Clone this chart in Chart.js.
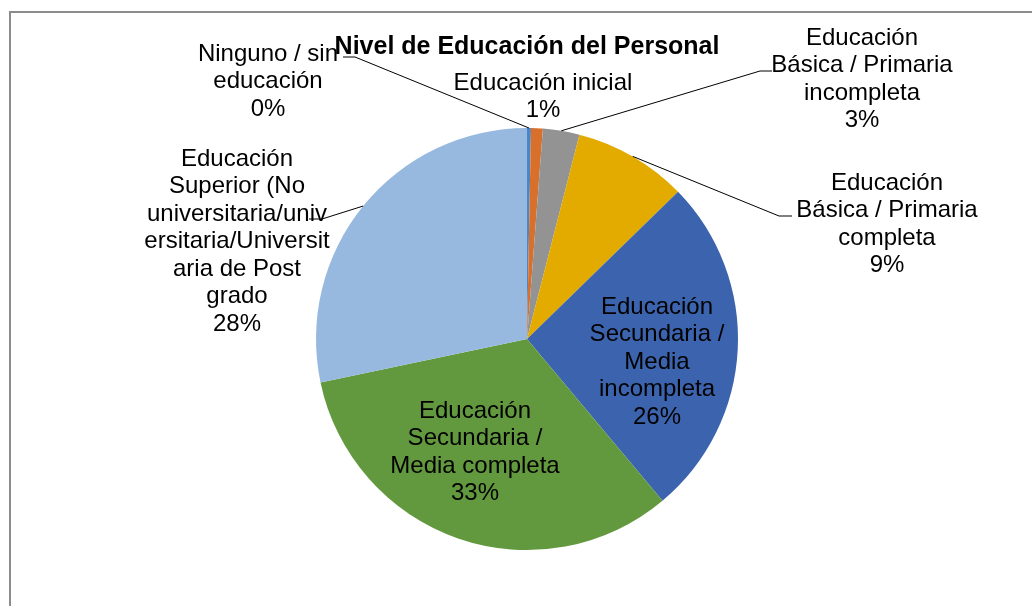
<!DOCTYPE html>
<html>
<head>
<meta charset="utf-8">
<script src="https://cdn.jsdelivr.net/npm/chart.js@4.4.1/dist/chart.umd.min.js"></script>
<style>
  html, body { margin: 0; padding: 0; background: #fff; }
  #wrap { width: 1032px; height: 606px; position: relative; }
</style>
</head>
<body>
<div id="wrap"><canvas id="grafico" width="1032" height="606"></canvas></div>
<script>
// datos
const titulo = 'Nivel de Educación del Personal'
const categorias = [
    'Ninguno / sin educación',
    'Educación inicial',
    'Educación Básica / Primaria incompleta',
    'Educación Básica / Primaria completa',
    'Educación Secundaria / Media incompleta',
    'Educación Secundaria / Media completa',
    'Educación Superior (No universitaria/universitaria/Universitaria de Post grado'
]
// como Excel corta las etiquetas en lineas
const lineasEtiqueta = [
    ['Ninguno / sin', 'educación'],
    ['Educación inicial'],
    ['Educación', 'Básica / Primaria', 'incompleta'],
    ['Educación', 'Básica / Primaria', 'completa'],
    ['Educación', 'Secundaria /', 'Media', 'incompleta'],
    ['Educación', 'Secundaria /', 'Media completa'],
    ['Educación', 'Superior (No', 'universitaria/univ', 'ersitaria/Universit', 'aria de Post', 'grado']
]
const porcentajes = [0.3, 0.9, 2.8, 8.7, 26.2, 32.8, 28.3]
const colores = ['#4a86c5', '#d8702b', '#939393', '#e3aa00', '#3c64ae', '#62993e', '#97b9e0']

// posicion de cada etiqueta respecto al centro del pie (primera linea)
const posEtiquetas = [
    { dx: -259, dy: -285 },
    { dx: 16, dy: -256 },
    { dx: 335, dy: -301 },
    { dx: 360, dy: -156 },
    { dx: 130, dy: -32 },
    { dx: -52, dy: 72 },
    { dx: -290, dy: -180 }
]
// tramo horizontal de la linea guia (x1, x2, y) respecto al centro, null = sin linea
const guias = [
    [-184, -172, -282],
    null,
    [245, 233, -268],
    [265, 252, -123],
    null,
    null,
    [-218, -205, -120]
]

const FUENTE = '"Liberation Sans", Arial, sans-serif'
const ALTO_LINEA = 27.5

const pluginEtiquetas = {
    id: 'etiquetas',
    beforeDraw(chart) {
        const ctx = chart.ctx
        ctx.save()
        ctx.strokeStyle = '#8c8c8c'
        ctx.lineWidth = 2
        ctx.beginPath()
        ctx.moveTo(10, 606)
        ctx.lineTo(10, 12)
        ctx.lineTo(1032, 12)
        ctx.stroke()
        ctx.restore()
    },
    afterDraw(chart) {
        const ctx = chart.ctx
        const arcos = chart.getDatasetMeta(0).data
        const cx = arcos[0].x
        const cy = arcos[0].y

        ctx.save()
        // lineas guia
        ctx.strokeStyle = '#000'
        ctx.lineWidth = 1
        arcos.forEach((arco, i) => {
            const g = guias[i]
            if (!g) return
            const ang = (arco.startAngle + arco.endAngle) / 2
            const px = cx + Math.cos(ang) * arco.outerRadius
            const py = cy + Math.sin(ang) * arco.outerRadius
            ctx.beginPath()
            ctx.moveTo(cx + g[0], cy + g[2])
            ctx.lineTo(cx + g[1], cy + g[2])
            ctx.lineTo(px, py)
            ctx.stroke()
        })

        // textos
        ctx.fillStyle = '#000'
        ctx.font = '24px ' + FUENTE
        ctx.textAlign = 'center'
        ctx.textBaseline = 'middle'
        lineasEtiqueta.forEach((lineas, i) => {
            const p = posEtiquetas[i]
            const todas = lineas.concat([Math.round(porcentajes[i]) + '%'])
            todas.forEach((t, j) => {
                ctx.fillText(t, cx + p.dx, cy + p.dy + j * ALTO_LINEA)
            })
        })

        // titulo
        ctx.font = 'bold 25px ' + FUENTE
        ctx.fillText(titulo, cx, 47)
        ctx.restore()
    }
}

const ctx = document.querySelector('#grafico').getContext('2d')
new Chart(ctx, {
    type: 'pie',
    data: {
        labels: categorias,
        datasets: [{
            data: porcentajes,
            backgroundColor: colores,
            borderWidth: 0
        }]
    },
    options: {
        responsive: false,
        animation: false,
        layout: {
            padding: { left: 316, right: 294, top: 128, bottom: 56 }
        },
        plugins: {
            legend: { display: false },
            title: { display: false },
            tooltip: { enabled: false }
        }
    },
    plugins: [pluginEtiquetas]
})
</script>
</body>
</html>
